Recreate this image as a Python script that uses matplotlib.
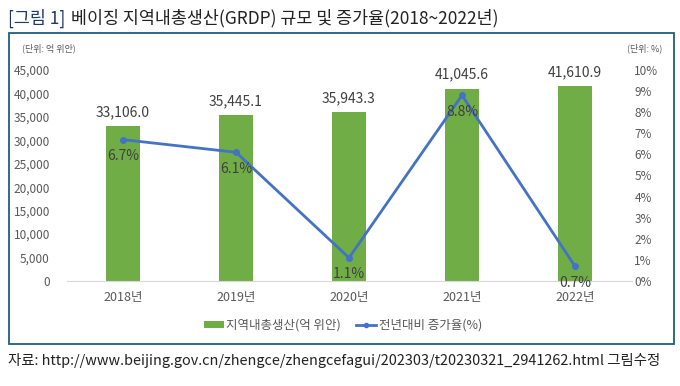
import matplotlib
matplotlib.use("Agg")
import matplotlib.pyplot as plt
from matplotlib.patches import Rectangle
from matplotlib.lines import Line2D
from matplotlib.patches import Patch

plt.rcParams['font.family'] = ['Noto Sans CJK KR', 'DejaVu Sans']

W, H = 680, 386

years = ["2018년", "2019년", "2020년", "2021년", "2022년"]
grdp = [33106.0, 35445.1, 35943.3, 41045.6, 41610.9]
growth = [6.7, 6.1, 1.1, 8.8, 0.7]

GREEN = "#70AD47"
BLUE = "#4472C4"
GRAY = "#595959"
BORDER = "#1F5F7F"


def px(x, y):
    """pixel (from top-left) to figure fraction"""
    return x / W, 1 - y / H


fig = plt.figure(figsize=(W / 100, H / 100), dpi=100, facecolor="white")

# outer frame
fig.patches.append(Rectangle(px(9, 344), 665 / W, 311 / H, transform=fig.transFigure,
                             fill=False, edgecolor=BORDER, linewidth=1.3))

# title, two colours
t1 = fig.text(*px(8, 18), "[그림 1]", fontsize=12.5, color="#1F3864",
              ha="left", va="center", fontweight="medium")
fig.canvas.draw()
bb = t1.get_window_extent()
fig.text(bb.x1 / W + 6 / W, 1 - 18 / H,
         "베이징 지역내총생산(GRDP) 규모 및 증가율(2018~2022년)",
         fontsize=12.5, color="#222222", ha="left", va="center")

# axes
ax = fig.add_axes([66.5 / W, (H - 281) / H, 565 / W, 211 / H])
x = list(range(len(years)))
bars = ax.bar(x, grdp, width=0.3, color=GREEN, zorder=2)
ax.set_xlim(-0.5, len(years) - 0.5)
ax.set_ylim(0, 45000)
ax.set_yticks(range(0, 45001, 5000))
ax.set_yticklabels([f"{v:,}" for v in range(0, 45001, 5000)])
ax.set_xticks(x)
ax.set_xticklabels(years)
for s in ["top", "right", "left"]:
    ax.spines[s].set_visible(False)
ax.spines["bottom"].set_color("#D9D9D9")
ax.tick_params(axis="y", length=0, pad=12, labelsize=8.5, labelcolor=GRAY)
ax.tick_params(axis="x", length=0, pad=7, labelsize=9, labelcolor=GRAY)

for xi, v in zip(x, grdp):
    ax.annotate(f"{v:,.1f}", (xi, v), xytext=(0, 5), textcoords="offset points",
                ha="center", va="bottom", fontsize=10, color="#404040")

ax2 = ax.twinx()
ax2.plot(x, growth, color=BLUE, linewidth=2, marker="o", markersize=4, zorder=3)
ax2.set_ylim(0, 10)
ax2.set_yticks(range(0, 11))
ax2.set_yticklabels([f"{v}%" for v in range(0, 11)])
for s in ["top", "right", "left", "bottom"]:
    ax2.spines[s].set_visible(False)
ax2.tick_params(axis="y", length=0, pad=2, labelsize=8.5, labelcolor=GRAY)
for xi, v in zip(x, growth):
    ax2.annotate(f"{v}%", (xi, v), xytext=(0, -12), textcoords="offset points",
                 ha="center", va="center", fontsize=10, color="#404040")

# unit labels
fig.text(*px(22, 48), "(단위: 억 위안)", fontsize=6.5, color=GRAY, ha="left", va="center")
fig.text(*px(662, 48), "(단위: %)", fontsize=6.5, color=GRAY, ha="right", va="center")

# legend
handles = [Patch(facecolor=GREEN, edgecolor="none"),
           Line2D([0], [0], color=BLUE, linewidth=2, marker="o", markersize=3)]
fig.legend(handles, ["지역내총생산(억 위안)", "전년대비 증가율(%)"],
           loc="center", bbox_to_anchor=px(343, 325), ncol=2, frameon=False,
           fontsize=9, labelcolor=GRAY, handlelength=1.6, handletextpad=0.2,
           columnspacing=1.2, handleheight=0.5)

# source
fig.text(*px(8, 361),
         "자료: http://www.beijing.gov.cn/zhengce/zhengcefagui/202303/t20230321_2941262.html 그림수정",
         fontsize=10.4, color="#222222", ha="left", va="center")

fig.savefig("out.png", dpi=100, facecolor="white")
